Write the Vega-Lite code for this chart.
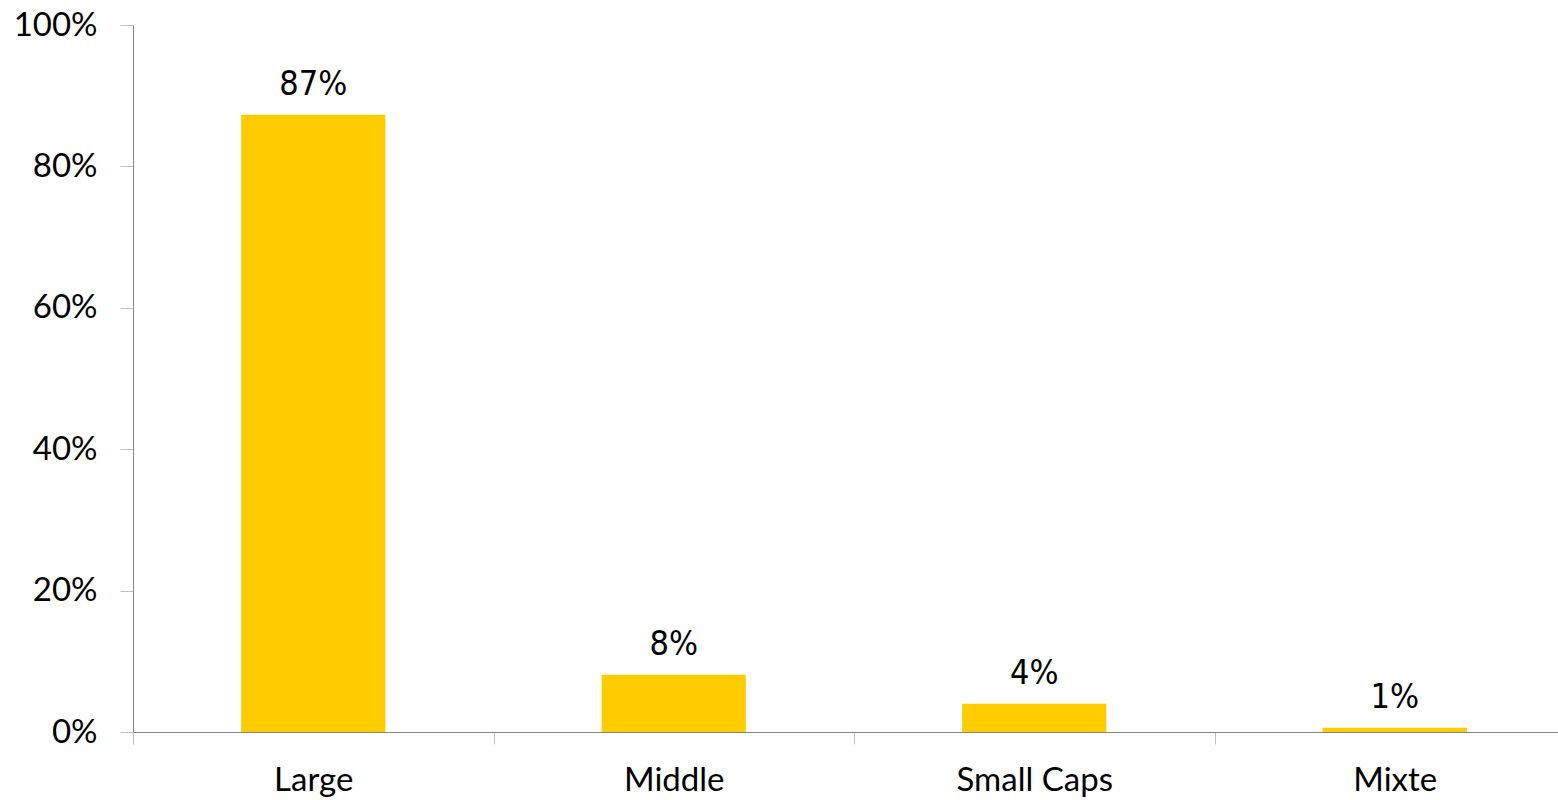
{
  "$schema": "https://vega.github.io/schema/vega-lite/v6.json",
  "autosize": {"type": "none"},
  "padding": {"left": 133, "top": 25, "right": 0, "bottom": 68},
  "width": 1425,
  "height": 707,
  "background": "white",
  "config": {"view": {"stroke": null}},
  "data": {"values": [
    {"cat": "Large", "v": 0.873},
    {"cat": "Middle", "v": 0.081},
    {"cat": "Small Caps", "v": 0.04},
    {"cat": "Mixte", "v": 0.006}
  ]},
  "encoding": {
    "x": {"field": "cat", "type": "nominal", "sort": null,
      "scale": {"range": [0, 1442], "paddingInner": 0, "paddingOuter": 0},
      "axis": {"title": null, "labelAngle": 0, "tickBand": "extent", "domainColor": "#868686", "tickColor": "#c0c0c0", "tickSize": 12, "labelFont": "Lato", "labelFontSize": 33, "labelColor": "black", "labelBaseline": "alphabetic", "labelPadding": 46}},
    "y": {"field": "v", "type": "quantitative",
      "scale": {"domain": [0, 1], "nice": false},
      "axis": {"title": null, "values": [0, 0.2, 0.4, 0.6, 0.8, 1], "format": ".0%", "grid": false, "domainColor": "#868686", "tickColor": "#c0c0c0", "tickSize": 13, "labelFont": "Lato", "labelFontSize": 33, "labelColor": "black", "labelPadding": 23}}
  },
  "layer": [
    {"mark": {"type": "bar", "color": "#FFCC00", "width": {"band": 0.4}}},
    {"mark": {"type": "text", "font": "'DejaVu Sans Condensed', 'Liberation Sans', sans-serif", "fontSize": 34, "baseline": "alphabetic", "dy": -20, "color": "black"},
     "encoding": {"text": {"field": "v", "type": "quantitative", "format": ".0%"}}}
  ]
}
